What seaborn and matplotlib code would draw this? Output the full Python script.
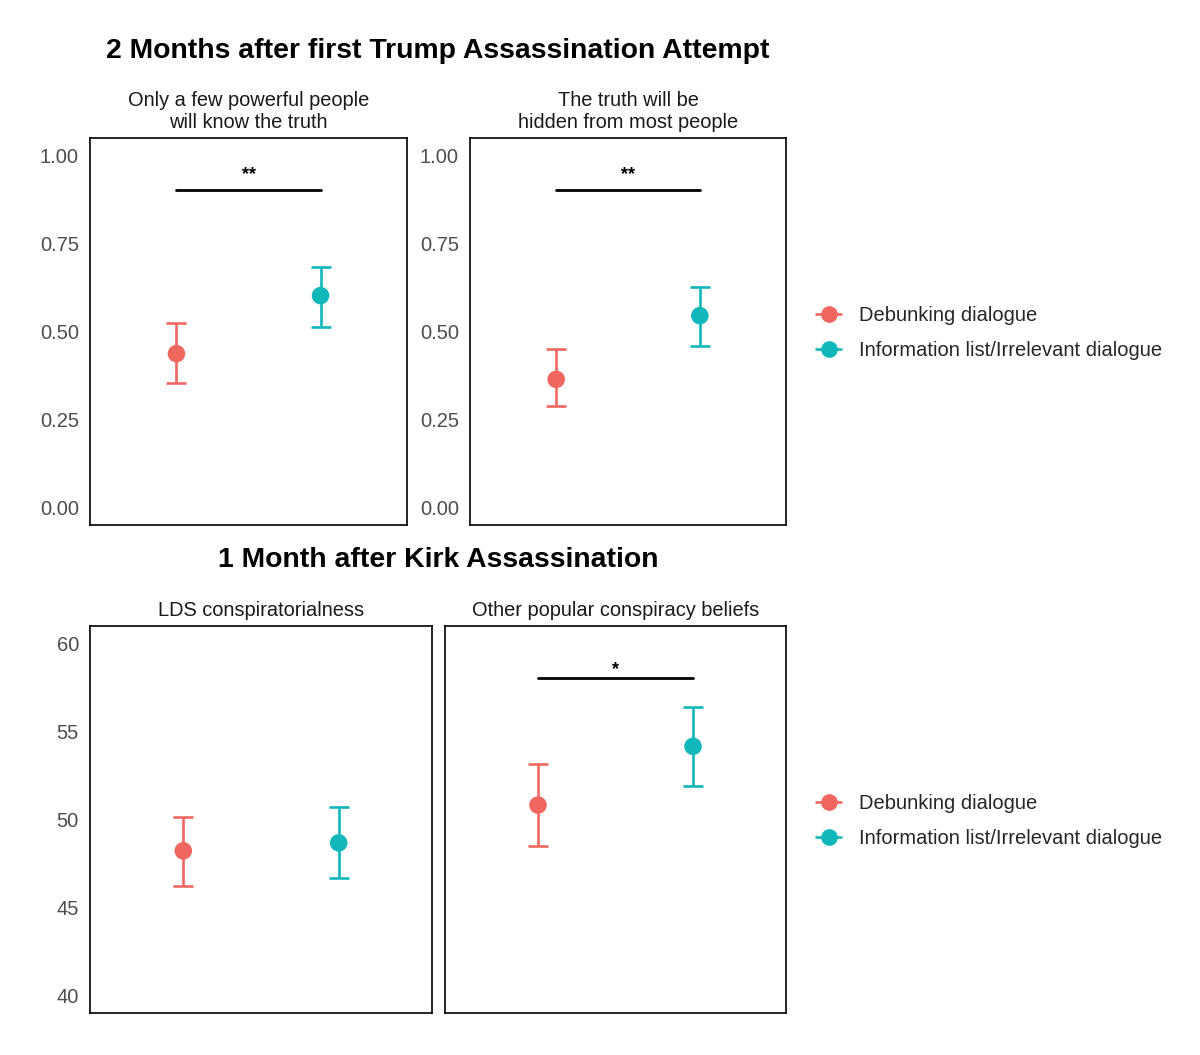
import numpy as np
import pandas as pd
import matplotlib
matplotlib.use("Agg")
import matplotlib.pyplot as plt
from matplotlib.lines import Line2D
import seaborn as sns

sns.set_theme(style="white")
plt.rcParams['font.family'] = ['Liberation Sans', 'DejaVu Sans']

conditions = ["Debunking dialogue", "Information list/Irrelevant dialogue"]
colors = ["#F0675F", "#12B7BB"]

# Top row (2 Months after first Trump Assassination Attempt)
top_titles = ["Only a few powerful people\nwill know the truth",
              "The truth will be\nhidden from most people"]
top_mean = [[0.437, 0.602], [0.364, 0.545]]
top_lo = [[0.355, 0.512], [0.288, 0.458]]
top_hi = [[0.523, 0.684], [0.449, 0.627]]
top_sig = ["**", "**"]
top_sig_y = [0.902, 0.902]
top_ticks = [0.00, 0.25, 0.50, 0.75, 1.00]
top_ticklabels = ["0.00", "0.25", "0.50", "0.75", "1.00"]

# Bottom row (1 Month after Kirk Assassination)
bot_titles = ["LDS conspiratorialness", "Other popular conspiracy beliefs"]
bot_mean = [[48.22, 48.67], [50.82, 54.16]]
bot_lo = [[46.23, 46.69], [48.48, 51.90]]
bot_hi = [[50.14, 50.71], [53.13, 56.41]]
bot_sig = [None, "*"]
bot_sig_y = [None, 58.03]
bot_ticks = [40, 45, 50, 55, 60]
bot_ticklabels = ["40", "45", "50", "55", "60"]

W, H = 1200, 1055
fig = plt.figure(figsize=(W / 100, H / 100), dpi=100)

def fx(px):
    return px / W

def fy(py):
    return 1 - py / H

def make_ax(x0, x1, y0, y1):
    return fig.add_axes([fx(x0), fy(y1), fx(x1 - x0), (y1 - y0) / H])

def draw_panel(ax, title, mean, lo, hi, sig, sig_y, ylim, ticks, ticklabels, show_labels, star_off):
    df = pd.DataFrame({"cond": conditions, "mean": mean, "lo": lo, "hi": hi})
    df["x"] = np.arange(len(conditions))
    for i, row in df.iterrows():
        ax.errorbar(row["x"], row["mean"],
                    yerr=[[row["mean"] - row["lo"]], [row["hi"] - row["mean"]]],
                    fmt="none", ecolor=colors[i], elinewidth=1.9, capsize=7.5, capthick=1.9, zorder=2)
    sns.scatterplot(data=df, x="x", y="mean", hue="cond", palette=colors, s=160,
                    edgecolor="none", legend=False, ax=ax, zorder=3)
    if sig is not None:
        ax.plot([0, 1], [sig_y, sig_y], color="black", lw=2.0)
        ax.text(0.5, sig_y + star_off, sig, ha="center", va="center", fontsize=13,
                fontweight="bold", color="black")
    ax.set_xlim(-0.6, 1.6)
    ax.set_ylim(*ylim)
    ax.set_xticks([])
    ax.set_xlabel("")
    ax.set_ylabel("")
    ax.set_yticks(ticks)
    if show_labels:
        ax.set_yticklabels(ticklabels, fontsize=14.5, color="#4D4D4D")
    else:
        ax.set_yticklabels([])
    ax.tick_params(axis="y", length=0, pad=8)
    for s in ax.spines.values():
        s.set_visible(True)
        s.set_color("black")
        s.set_linewidth(1.2)
    ax.set_title(title, fontsize=14.4, color="#1A1A1A", pad=7, linespacing=1.2)

top_boxes = [(90, 407, 138, 525), (470, 786, 138, 525)]
for k in range(2):
    ax = make_ax(*top_boxes[k])
    draw_panel(ax, top_titles[k], top_mean[k], top_lo[k], top_hi[k], top_sig[k], top_sig_y[k],
               (-0.05, 1.05), top_ticks, top_ticklabels, True, 0.045)

bot_boxes = [(90, 432, 626, 1013), (445, 786, 626, 1013)]
for k in range(2):
    ax = make_ax(*bot_boxes[k])
    draw_panel(ax, bot_titles[k], bot_mean[k], bot_lo[k], bot_hi[k], bot_sig[k], bot_sig_y[k],
               (39, 61), bot_ticks, bot_ticklabels, k == 0, 0.5)

fig.text(fx(438), fy(51), "2 Months after first Trump Assassination Attempt",
         ha="center", va="center", fontsize=20.4, fontweight="bold", color="black")
fig.text(fx(438), fy(560), "1 Month after Kirk Assassination",
         ha="center", va="center", fontsize=20.4, fontweight="bold", color="black")

handles = [Line2D([0], [0], color=c, marker="o", markersize=11, lw=1.9) for c in colors]
for yc in (333, 821):
    fig.legend(handles, conditions, loc="center left", bbox_to_anchor=(fx(798), fy(yc)),
               frameon=False, fontsize=14.5, handlelength=1.25, handletextpad=0.9,
               labelspacing=0.75)

fig.savefig("out.png", dpi=100, facecolor="white")
